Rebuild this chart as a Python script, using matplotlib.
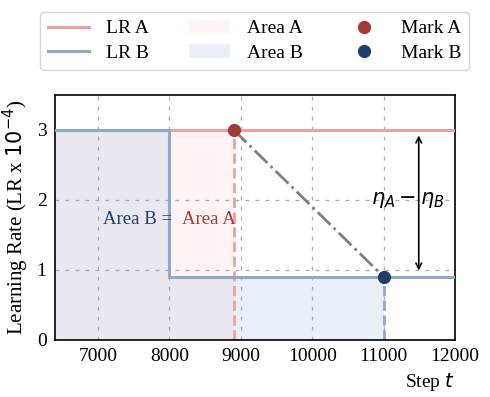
import numpy as np
import matplotlib.pyplot as plt

plt.rcParams['font.family'] = ['Liberation Serif', 'DejaVu Serif']
plt.rcParams['mathtext.fontset'] = 'dejavusans'

# --- data ---
steps_a = [6400, 12000]
lr_a = [3.0, 3.0]
steps_b = [6400, 8000, 8000, 12000]
lr_b = [3.0, 3.0, 0.9, 0.9]
mark_a = (8900, 3.0)
mark_b = (11000, 0.9)
area_a_x = [6400, 8900]
area_a_y = [3.0, 3.0]
area_b_x = [6400, 8000, 8000, 11000]
area_b_y = [3.0, 3.0, 0.9, 0.9]
xticks = [7000, 8000, 9000, 10000, 11000, 12000]
yticks = [0, 1, 2, 3]

c_a = '#EFA0A0'
c_b = '#8DA9CB'
c_ma = '#A33A3A'
c_mb = '#1F3D6B'

fig = plt.figure(figsize=(4.9, 3.97), dpi=100)
ax = fig.add_axes([0.112, 0.144, 0.817, 0.617])

ax.plot(steps_a, lr_a, color=c_a, lw=2.2, label='LR A', zorder=3)
ax.plot(steps_b, lr_b, color=c_b, lw=2.2, label='LR B', zorder=3)
ax.fill_between(area_a_x, 0, area_a_y, color='#FF9999', alpha=0.11, lw=0, label='Area A')
ax.fill_between(area_b_x, 0, area_b_y, color='#B1C7E5', alpha=0.27, lw=0, label='Area B')

ax.plot([mark_a[0], mark_a[0]], [0, mark_a[1]], color=c_a, lw=2, ls='--', zorder=2)
ax.plot([mark_b[0], mark_b[0]], [0, mark_b[1]], color=c_b, lw=2, ls='--', zorder=2)
ax.plot([mark_a[0], mark_b[0]], [mark_a[1], mark_b[1]], color='grey', lw=2, ls='-.', zorder=2)

ax.plot([mark_a[0]], [mark_a[1]], 'o', ms=8.5, color=c_ma, zorder=5, label='Mark A')
ax.plot([mark_b[0]], [mark_b[1]], 'o', ms=8.5, color=c_mb, zorder=5, label='Mark B')

ax.annotate('', xy=(11490, 0.95), xytext=(11490, 2.96),
            arrowprops=dict(arrowstyle='<->', color='black', lw=1.2))
ax.text(11340, 2.0, r'$\eta_A - \eta_B$', fontsize=15, ha='center', va='center')

ax.text(7560, 1.72, 'Area B =', color=c_mb, fontsize=13.5, ha='center', va='center')
ax.text(8560, 1.72, 'Area A', color=c_ma, fontsize=13.5, ha='center', va='center')

ax.set_xlim(6400, 12000)
ax.set_ylim(0, 3.5)
ax.set_xticks(xticks)
ax.set_yticks(yticks)
ax.tick_params(labelsize=14, length=0, pad=6)
ax.grid(True, ls=(0, (3, 5)), color='#AAAAAA', lw=0.9)
for s in ax.spines.values():
    s.set_linewidth(1.2)

ax.set_ylabel(r'Learning Rate (LR x $10^{-4}$)', fontsize=15)
ax.set_xlabel(r'Step $t$', fontsize=14, loc='right')

fig.legend(loc='center', bbox_to_anchor=(0.52, 0.897), ncol=3, fontsize=14,
           frameon=True, fancybox=True, edgecolor='#CCCCCC', handlelength=2.1,
           columnspacing=2.1, handletextpad=0.85, borderpad=0.4, labelspacing=0.35)

fig.savefig('out.png', dpi=100)
